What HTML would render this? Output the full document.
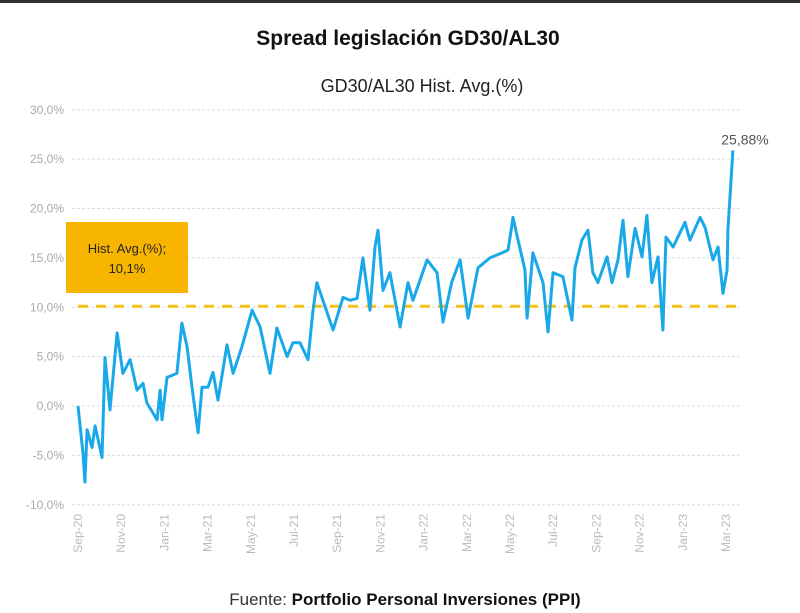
<!DOCTYPE html>
<html><head><meta charset="utf-8"><style>
body{margin:0;background:#fff;}
#wrap{position:relative;width:800px;height:613px;overflow:hidden;font-family:"Liberation Sans",sans-serif;}
</style></head><body>
<div id="wrap">
<div style="position:absolute;left:0;top:0;width:800px;height:3px;background:#333"></div>
<svg id="chart" width="800" height="613"></svg>
</div>
<script>
const monthIdx=[0,.23,.32,.42,.65,.79,1.11,1.25,1.48,1.81,2.08,2.41,2.73,3.01,3.19,3.66,3.8,3.89,4.12,4.58,4.81,5.05,5.28,5.56,5.74,6.02,6.25,6.48,6.9,7.18,7.59,8.06,8.43,8.89,9.21,9.68,9.95,10.28,10.65,10.88,11.06,11.34,11.81,12.27,12.59,12.92,13.19,13.52,13.75,13.89,14.12,14.44,14.91,15.28,15.51,16.16,16.62,16.9,17.31,17.69,18.06,18.52,19.07,19.63,19.91,20.14,20.37,20.69,20.79,21.06,21.53,21.76,21.99,22.45,22.87,23.01,23.33,23.61,23.84,24.07,24.49,24.72,25,25.23,25.46,25.79,26.11,26.34,26.57,26.85,27.08,27.22,27.55,28.1,28.33,28.8,29.03,29.4,29.63,29.86,30.05,30.09,30.32];
const spread=[0,-4.8,-7.7,-2.4,-4.2,-2,-5.2,4.9,-0.4,7.4,3.3,4.7,1.6,2.3,0.3,-1.4,1.6,-1.4,2.9,3.3,8.4,6,1.9,-2.7,1.9,1.9,3.4,0.6,6.2,3.3,6,9.7,8,3.3,7.9,5,6.4,6.4,4.7,9.7,12.5,10.7,7.7,11,10.7,10.9,15,9.7,16.1,17.8,11.7,13.5,8,12.5,10.7,14.8,13.5,8.5,12.6,14.8,8.9,14,15,15.5,15.8,19.1,16.8,13.8,8.9,15.5,12.5,7.5,13.5,13.1,8.7,14,16.8,17.8,13.5,12.5,15.1,12.5,14.8,18.8,13.1,18,15.1,19.3,12.5,15.1,7.7,17.1,16.1,18.6,16.8,19.1,18.1,14.8,16.1,11.4,13.8,17.8,25.88];
const yTicks=[30,25,20,15,10,5,0,-5,-10];
const yTickLabels=["30,0%","25,0%","20,0%","15,0%","10,0%","5,0%","0,0%","-5,0%","-10,0%"];
const xTickMonths=[0,2,4,6,8,10,12,14,16,18,20,22,24,26,28,30];
const xTickLabels=["Sep-20","Nov-20","Jan-21","Mar-21","May-21","Jul-21","Sep-21","Nov-21","Jan-22","Mar-22","May-22","Jul-22","Sep-22","Nov-22","Jan-23","Mar-23"];
const histAvg=[10.1];
const lastLabel=["25,88%"];

const NS="http://www.w3.org/2000/svg";
const svg=document.getElementById('chart');
const X=m=>78+m*21.6;
const Y=v=>406-v*9.875;
function mk(t,a,txt){const e=document.createElementNS(NS,t);for(const k in a)e.setAttribute(k,a[k]);if(txt!==undefined)e.textContent=txt;svg.appendChild(e);return e;}
let e;
e=mk('text',{x:408,y:45,'text-anchor':'middle','font-size':21,'font-weight':'bold',fill:'#111'},'Spread legislación GD30/AL30');


e=mk('text',{x:422,y:92,'text-anchor':'middle','font-size':18,fill:'#222'},'GD30/AL30 Hist. Avg.(%)');


yTicks.forEach((v,i)=>{
  e=mk('line',{x1:72,x2:740,y1:Y(v),y2:Y(v),stroke:'#ddd','stroke-width':1,'stroke-dasharray':'3,2'});
  
  
  e=mk('text',{x:64,y:Y(v)+4,'text-anchor':'end','font-size':12,fill:'#aaa'},yTickLabels[i]);
  
  
});
xTickMonths.forEach((m,i)=>{
  e=mk('text',{x:0,y:0,'text-anchor':'end','font-size':12,fill:'#bbb',transform:`translate(${X(m)+4},514) rotate(-90)`},xTickLabels[i]);
  
  
});
e=mk('line',{x1:78,x2:740,y1:Y(histAvg[0]),y2:Y(histAvg[0]),stroke:'#f5c21b','stroke-width':3,'stroke-dasharray':'10,8'});


e=mk('path',{d:monthIdx.map((m,i)=>(i?'L':'M')+X(m).toFixed(1)+','+Y(spread[i]).toFixed(1)).join(''),fill:'none',stroke:'#1aa9e8','stroke-width':3,'stroke-linejoin':'round'});


e=mk('text',{x:745,y:Y(spread[spread.length-1])-6,'text-anchor':'middle','font-size':14,fill:'#555'},lastLabel[0]);


e=mk('rect',{x:66,y:222,width:122,height:71,fill:'#f8b500'});


e=mk('text',{x:127,y:253,'text-anchor':'middle','font-size':13,fill:'#222'},'Hist. Avg.(%);');


e=mk('text',{x:127,y:273,'text-anchor':'middle','font-size':13,fill:'#222'},(histAvg[0]+'').replace('.',',')+'%');


e=mk('text',{x:405,y:605,'text-anchor':'middle','font-size':17,fill:'#111'});


e.innerHTML='<tspan fill="#333">Fuente: </tspan><tspan font-weight="bold">Portfolio Personal Inversiones (PPI)</tspan>';
</script>
</body></html>
